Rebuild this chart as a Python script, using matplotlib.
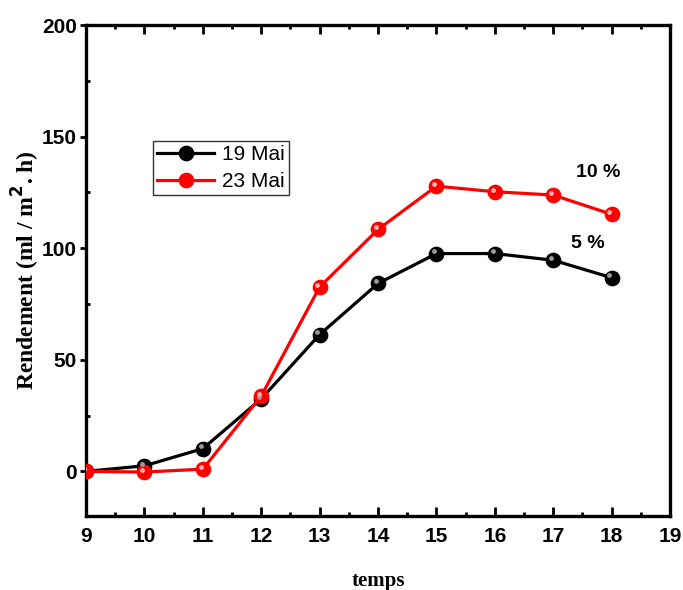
import matplotlib
matplotlib.use("Agg")
import matplotlib.pyplot as plt
from matplotlib.transforms import ScaledTranslation
from matplotlib.ticker import MultipleLocator

temps = [9, 10, 11, 12, 13, 14, 15, 16, 17, 18]
mai19 = [0, 2.5, 10.2, 32.5, 61.3, 84.2, 97.6, 97.6, 94.6, 86.8]
mai23 = [0, -0.3, 1.0, 33.8, 82.6, 108.4, 127.8, 125.3, 123.8, 115.2]
series_labels = ["19 Mai", "23 Mai"]
annot_labels = ["10 %", "5 %"]

plt.rcParams['font.family'] = ['Liberation Sans', 'DejaVu Sans']

fig = plt.figure(figsize=(6.83, 5.90), dpi=100)
ax = fig.add_axes([0.126, 0.1254, 0.855, 0.8322])

hl = ScaledTranslation(-1.6/72, 1.6/72, fig.dpi_scale_trans)
for y, c, hc, lab in [(mai19, 'black', '#9a9a9a', series_labels[0]),
                      (mai23, '#ff0000', '#ffb0b0', series_labels[1])]:
    ax.plot(temps, y, color=c, lw=2.3, marker='o', ms=10.3, mfc=c, mec=c,
            label=lab, zorder=3)
    ax.plot(temps, y, ls='none', marker='o', ms=3.5, mfc=hc, mec='none',
            transform=ax.transData + hl, zorder=4)

ax.set_xlim(9, 19)
ax.set_ylim(-20, 200)
ax.xaxis.set_major_locator(MultipleLocator(1))
ax.xaxis.set_minor_locator(MultipleLocator(0.5))
ax.yaxis.set_major_locator(MultipleLocator(50))
ax.yaxis.set_minor_locator(MultipleLocator(25))

for s in ax.spines.values():
    s.set_linewidth(2.4)

ax.tick_params(axis='x', which='major', direction='in', length=6.5, width=2,
               labelsize=15, pad=8, top=True)
ax.tick_params(axis='x', which='minor', direction='in', length=3, width=2, top=True)
ax.tick_params(axis='y', which='major', direction='out', length=4.5, width=2,
               labelsize=15, pad=2)
ax.tick_params(axis='y', which='minor', direction='in', length=3, width=2)
for t in ax.get_xticklabels() + ax.get_yticklabels():
    t.set_fontweight('bold')

ax.set_xlabel('temps', family=['Liberation Serif'], fontweight='bold',
              fontsize=15, labelpad=18)
ax.set_ylabel('Rendement (ml / m$^{\\mathbf{2}}$. h)', family=['Liberation Serif'],
              fontweight='bold', fontsize=17, labelpad=0)

ax.text(17.77, 134, annot_labels[0], fontsize=14, fontweight='bold', ha='center', va='center')
ax.text(17.6, 102, annot_labels[1], fontsize=14, fontweight='bold', ha='center', va='center')

leg = ax.legend(loc='upper left', bbox_to_anchor=(0.115, 0.764), frameon=True,
                fancybox=False, edgecolor='black', fontsize=15, handlelength=2.7,
                borderpad=0.2, labelspacing=0.38, handletextpad=0.4, borderaxespad=0)
leg.get_frame().set_linewidth(1.0)

fig.savefig('out.png', dpi=100)
